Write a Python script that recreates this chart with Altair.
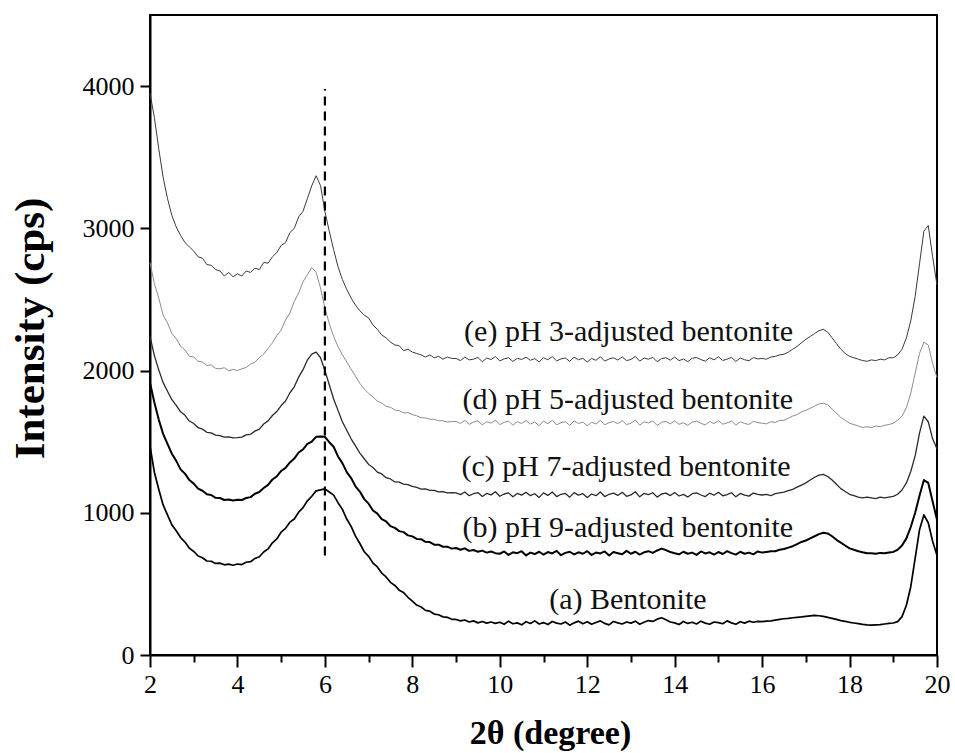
import altair as alt
import pandas as pd

# 2-theta sampling grid (degrees), step 0.1 from 2.0 to 20.0
two_theta = [round(2 + i * 0.1, 1) for i in range(181)]

# (e) pH 3-adjusted bentonite
pH3 = [
    3950, 3780, 3560, 3360, 3210, 3090, 3010, 2950, 2900, 2870,
    2840, 2800, 2790, 2745, 2740, 2710, 2700, 2665, 2690, 2660,
    2680, 2665, 2700, 2690, 2720, 2710, 2760, 2755, 2800, 2830,
    2880, 2900, 2970, 3000, 3080, 3120, 3210, 3300, 3370, 3300,
    3120, 2980, 2850, 2730, 2640, 2570, 2510, 2460, 2420, 2390,
    2370, 2320, 2290, 2250, 2230, 2200, 2180, 2175, 2140, 2150,
    2130, 2120, 2110, 2095, 2110, 2090, 2100, 2080, 2095, 2085,
    2085, 2070, 2095, 2075, 2080, 2092, 2062, 2088, 2078, 2098,
    2068, 2082, 2090, 2064, 2086, 2078, 2094, 2072, 2084, 2060,
    2090, 2076, 2098, 2068, 2082, 2088, 2065, 2094, 2076, 2086,
    2060, 2085, 2072, 2098, 2066, 2082, 2090, 2074, 2096, 2070,
    2078, 2100, 2066, 2088, 2080, 2093, 2062, 2084, 2090, 2073,
    2095, 2070, 2081, 2063, 2086, 2092, 2077, 2066, 2090, 2075,
    2097, 2071, 2080, 2093, 2064, 2088, 2076, 2069, 2091, 2082,
    2085, 2080, 2095, 2100, 2110, 2115, 2130, 2150, 2170, 2195,
    2220, 2240, 2260, 2280, 2290, 2270, 2230, 2190, 2150, 2120,
    2100, 2090, 2080, 2070, 2065, 2075, 2070, 2080, 2075, 2090,
    2090, 2110, 2150, 2230, 2350, 2520, 2750, 2980, 3020, 2800,
    2600,
]

# (d) pH 5-adjusted bentonite
pH5 = [
    2760, 2610, 2510, 2390, 2335, 2260, 2225, 2170, 2145, 2100,
    2095, 2065, 2060, 2035, 2040, 2015, 2012, 2020, 1998, 2008,
    2000, 2012, 2022, 2045, 2058, 2092, 2115, 2155, 2195, 2245,
    2285, 2355, 2405, 2485, 2545, 2625, 2675, 2725, 2690, 2580,
    2440, 2330, 2240, 2170, 2110, 2060, 2010, 1960, 1910, 1870,
    1840, 1815, 1785, 1772, 1748, 1742, 1722, 1718, 1702, 1704,
    1690, 1682, 1668, 1667, 1658, 1657, 1648, 1647, 1638, 1642,
    1642, 1628, 1650, 1622, 1638, 1646, 1618, 1640, 1630, 1652,
    1620, 1636, 1645, 1616, 1640, 1628, 1648, 1624, 1638, 1612,
    1644, 1626, 1650, 1618, 1634, 1640, 1615, 1646, 1628, 1638,
    1612, 1636, 1624, 1650, 1618, 1634, 1642, 1626, 1648, 1620,
    1630, 1652, 1616, 1640, 1632, 1645, 1614, 1636, 1642, 1625,
    1646, 1622, 1633, 1615, 1638, 1644, 1629, 1618, 1642, 1627,
    1648, 1623, 1632, 1645, 1616, 1640, 1628, 1621, 1643, 1634,
    1630, 1625, 1640, 1635, 1650, 1650, 1665, 1680, 1690, 1710,
    1720, 1735, 1750, 1765, 1770, 1760, 1730, 1700, 1670, 1650,
    1630, 1620, 1610, 1600, 1605, 1600, 1610, 1605, 1615, 1620,
    1630, 1650, 1680, 1740, 1840, 1980, 2120, 2200, 2180, 2050,
    1950,
]

# (c) pH 7-adjusted bentonite
pH7 = [
    2240, 2105, 2005, 1915, 1855, 1795, 1755, 1710, 1685, 1645,
    1628, 1598, 1588, 1566, 1562, 1546, 1542, 1532, 1534, 1526,
    1528, 1532, 1548, 1552, 1574, 1588, 1624, 1646, 1684, 1712,
    1754, 1786, 1844, 1886, 1954, 2006, 2074, 2116, 2130, 2090,
    2000, 1900, 1800, 1720, 1640, 1580, 1520, 1470, 1420, 1380,
    1340, 1318, 1286, 1273, 1247, 1238, 1217, 1215, 1202, 1198,
    1185, 1178, 1167, 1168, 1157, 1158, 1147, 1148, 1140, 1142,
    1140, 1128, 1146, 1120, 1134, 1142, 1115, 1136, 1126, 1148,
    1116, 1132, 1140, 1112, 1136, 1124, 1144, 1120, 1134, 1108,
    1140, 1122, 1146, 1114, 1130, 1136, 1110, 1142, 1124, 1134,
    1108, 1132, 1120, 1146, 1114, 1130, 1138, 1122, 1144, 1116,
    1126, 1148, 1112, 1136, 1128, 1141, 1110, 1132, 1138, 1121,
    1142, 1118, 1129, 1111, 1134, 1140, 1125, 1114, 1138, 1123,
    1144, 1119, 1128, 1141, 1112, 1136, 1124, 1117, 1139, 1130,
    1125, 1130, 1120, 1135, 1140, 1145, 1155, 1165, 1180, 1195,
    1210, 1230, 1250, 1265, 1270, 1255, 1230, 1200, 1170, 1150,
    1130, 1120, 1110, 1105, 1110, 1105, 1100, 1110, 1105, 1110,
    1115, 1130, 1160, 1210, 1290, 1400, 1560, 1680, 1640, 1520,
    1450,
]

# (b) pH 9-adjusted bentonite
pH9 = [
    1915, 1775, 1655, 1555, 1485, 1415, 1365, 1305, 1275, 1230,
    1205, 1170, 1155, 1130, 1125, 1105, 1104, 1090, 1094, 1086,
    1092, 1090, 1104, 1110, 1134, 1146, 1174, 1196, 1234, 1256,
    1294, 1316, 1354, 1381, 1424, 1446, 1484, 1501, 1534, 1536,
    1534, 1496, 1464, 1396, 1349, 1286, 1244, 1186, 1149, 1096,
    1064, 1016, 994, 956, 939, 906, 894, 871, 864, 841,
    834, 816, 814, 796, 794, 776, 776, 761, 762, 748,
    752, 740, 750, 732, 738, 726, 734, 720, 728, 716,
    712, 728, 704, 722, 716, 730, 700, 720, 710, 726,
    706, 724, 714, 732, 702, 718, 726, 708, 722, 712,
    730, 704, 720, 714, 728, 700, 724, 716, 708, 732,
    712, 726, 706, 722, 730, 718, 735, 748, 738, 724,
    716, 708, 726, 712, 720, 704, 728, 714, 722, 706,
    724, 710, 730, 716, 706, 726, 712, 720, 708, 728,
    720, 725, 730, 730, 740, 745, 755, 765, 780, 795,
    805, 820, 835, 850, 860, 855, 835, 810, 790, 770,
    750, 740, 730, 722, 715, 715, 712, 718, 715, 720,
    725, 740, 770, 820, 900, 1000, 1120, 1230, 1210, 1080,
    950,
]

# (a) Bentonite
bentonite = [
    1470, 1285, 1165, 1055, 985, 915, 874, 826, 794, 751,
    728, 696, 684, 661, 659, 644, 646, 634, 639, 631,
    640, 636, 652, 656, 679, 691, 724, 746, 789, 816,
    864, 891, 934, 956, 1004, 1036, 1084, 1116, 1154, 1161,
    1168, 1146, 1124, 1071, 1024, 956, 904, 836, 784, 726,
    694, 646, 619, 576, 549, 511, 489, 456, 439, 406,
    378, 351, 338, 314, 308, 288, 283, 268, 265, 251,
    250, 240, 246, 232, 240, 226, 236, 224, 232, 222,
    230, 216, 238, 220, 226, 212, 234, 222, 240, 218,
    228, 214, 236, 224, 218, 232, 210, 226, 238, 220,
    234, 216, 228, 240, 222, 212, 236, 226, 218, 232,
    224, 238, 216, 230, 242, 236, 252, 262, 248, 232,
    226, 214, 236, 222, 230, 218, 238, 224, 216, 232,
    228, 220, 240, 226, 216, 234, 224, 238, 230, 236,
    235, 238, 240, 245, 250, 255, 258, 262, 265, 268,
    272, 275, 278, 276, 272, 265, 258, 250, 242, 236,
    230, 225, 220, 215, 212, 210, 212, 214, 218, 222,
    225, 235, 270, 350, 480, 680, 880, 985, 930, 800,
    700,
]

series_names = ["e", "d", "c", "b", "a"]
series_values = [pH3, pH5, pH7, pH9, bentonite]
series_colors = ["#3a3a3a", "#8c8c8c", "#2a2a2a", "#000000", "#000000"]
series_widths = [1.0, 1.0, 1.3, 2.0, 1.7]

# annotations (label text, anchor 2theta, anchor intensity)
label_text = ["(e) pH 3-adjusted bentonite", "(d) pH 5-adjusted bentonite",
              "(c) pH 7-adjusted bentonite", "(b) pH 9-adjusted bentonite"]
label_x = [16.71, 16.71, 16.65, 16.71]
label_y = [2271, 1793, 1322, 893]
label_a_text = ["(a) Bentonite"]
label_a_x = [12.93]
label_a_y = [387]

# dashed reference line at 2theta = 6
dash_x = [6]
dash_y0 = [700]
dash_y1 = [3980]

FONT = "Liberation Serif"

x_scale = alt.Scale(domain=[2, 20], nice=False, zero=False)
y_scale = alt.Scale(domain=[0, 4500], nice=False)

x_axis = alt.Axis(
    values=list(range(2, 21)),
    labelExpr="datum.value % 2 === 0 ? datum.label : ''",
    tickSize={"condition": {"test": "datum.value % 2 === 1", "value": 7}, "value": 12},
    tickWidth=2, tickColor="black", domainColor="black", domainWidth=2,
    labelFont=FONT, labelFontSize=26, labelColor="black", labelPadding=4,
    labelFlush=False,
    title="2θ (degree)", titleFont=FONT, titleFontSize=34, titleFontWeight="bold",
    titleColor="black", titleX=400, titleY=88, titleAlign="center",
    titleBaseline="alphabetic",
    grid=False,
)
y_axis = alt.Axis(
    values=[0, 1000, 2000, 3000, 4000],
    format="d",
    tickSize=10, tickWidth=2, tickColor="black", domainColor="black", domainWidth=2,
    labelFont=FONT, labelFontSize=26, labelColor="black", labelPadding=6,
    labelFlush=False,
    title="Intensity (cps)", titleFont=FONT, titleFontSize=43, titleFontWeight="bold",
    titleColor="black", titleX=-120, titleY=313, titleAngle=-90,
    titleAlign="center", titleBaseline="middle",
    grid=False,
)

layers = []
for name, vals, col, w in zip(series_names, series_values, series_colors, series_widths):
    df = pd.DataFrame({"x": two_theta, "y": vals})
    layers.append(
        alt.Chart(df).mark_line(color=col, strokeWidth=w, strokeJoin="round").encode(
            x=alt.X("x:Q", scale=x_scale, axis=x_axis),
            y=alt.Y("y:Q", scale=y_scale, axis=y_axis),
        )
    )

dash_df = pd.DataFrame({"x": dash_x, "y0": dash_y0, "y1": dash_y1})
dash = alt.Chart(dash_df).mark_rule(color="black", strokeWidth=2.2, strokeDash=[9, 6]).encode(
    x=alt.X("x:Q", scale=x_scale, axis=x_axis),
    y=alt.Y("y0:Q", scale=y_scale, axis=y_axis),
    y2="y1:Q",
)

lab_df = pd.DataFrame({"x": label_x, "y": label_y, "t": label_text})
labels = alt.Chart(lab_df).mark_text(
    align="right", baseline="middle", font=FONT, fontSize=30, color="#111111"
).encode(
    x=alt.X("x:Q", scale=x_scale, axis=x_axis),
    y=alt.Y("y:Q", scale=y_scale, axis=y_axis),
    text="t:N",
)
lab_a_df = pd.DataFrame({"x": label_a_x, "y": label_a_y, "t": label_a_text})
label_a = alt.Chart(lab_a_df).mark_text(
    align="center", baseline="middle", font=FONT, fontSize=30, color="#111111"
).encode(
    x=alt.X("x:Q", scale=x_scale, axis=x_axis),
    y=alt.Y("y:Q", scale=y_scale, axis=y_axis),
    text="t:N",
)

chart = alt.layer(*layers, dash, labels, label_a).properties(
    width=787,
    height=640,
    autosize=alt.AutoSizeParams(type="none"),
    padding={"left": 150, "top": 15, "right": 18, "bottom": 98},
    background="white",
).configure_view(stroke="black", strokeWidth=2)

chart.save("out.html", embed_options={"renderer": "svg", "actions": False})
